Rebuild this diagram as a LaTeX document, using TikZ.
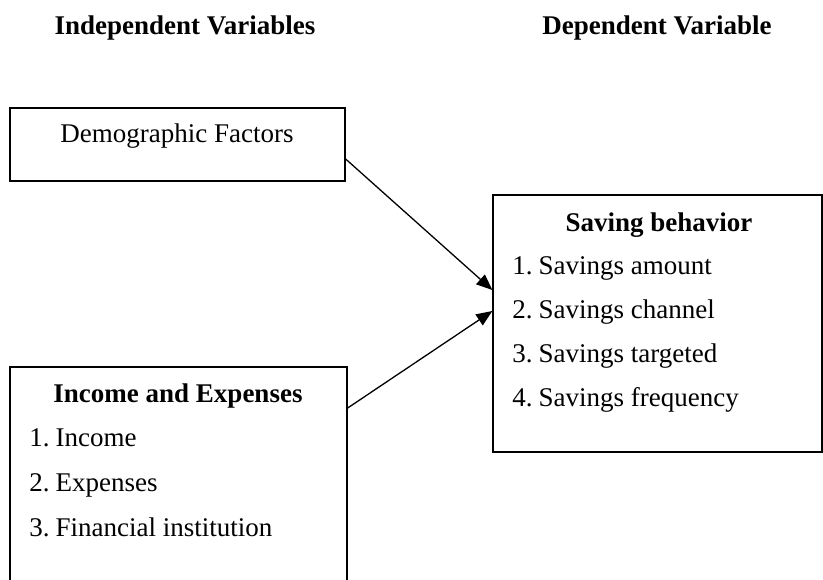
\documentclass[tikz,border=0pt]{standalone}
\usepackage{fontspec}
\setmainfont{Liberation Serif}
\usetikzlibrary{fit,arrows.meta}
\begin{document}
\begin{tikzpicture}[x=0.5pt,y=-0.5pt,
 box/.style={draw,line width=0.65pt,inner sep=0pt},
 txt/.style={font=\fontsize{13.5}{16}\selectfont,inner sep=0pt,anchor=base},
 hd/.style={txt,font=\fontsize{13.5}{16}\selectfont\bfseries},
 item/.style={txt,anchor=base west},
 arr/.style={line width=0.65pt,-{Triangle[length=8pt,width=6.5pt]}}]
\useasboundingbox[fill=white] (0,0) rectangle (823,579);
\clip (0,0) rectangle (823,579);
% headings
\node[hd] (ih) at (185,34) {Independent Variables};
\node[hd] (dh) at (657,34) {Dependent Variable};
% boxes
\node[box,fit={(10,108)(345,181)}] (demo) {};
\node[box,fit={(493,195)(822,452)}] (save) {};
\node[box,fit={(10,367)(347,620)}] (inc) {};
% texts
\node[txt] (demot) at (177,142) {Demographic Factors};
\node[hd] (savet) at (659,231) {Saving behavior};
\node[item] (s1) at (512,274) {1.\hspace{0.22em}Savings amount};
\node[item] (s2) at (512,318) {2.\hspace{0.22em}Savings channel};
\node[item] (s3) at (512,362) {3.\hspace{0.22em}Savings targeted};
\node[item] (s4) at (512,406) {4.\hspace{0.22em}Savings frequency};
\node[hd] (inct) at (178,402) {Income and Expenses};
\node[item] (i1) at (29,446) {1.\hspace{0.22em}Income};
\node[item] (i2) at (29,491) {2.\hspace{0.22em}Expenses};
\node[item] (i3) at (29,536) {3.\hspace{0.22em}Financial institution};
% arrows
\draw[arr] (demo.east |- 0,159) -- (save.west |- 0,290);
\draw[arr] (inc.east |- 0,408) -- (save.west |- 0,311);
\end{tikzpicture}
\end{document}
